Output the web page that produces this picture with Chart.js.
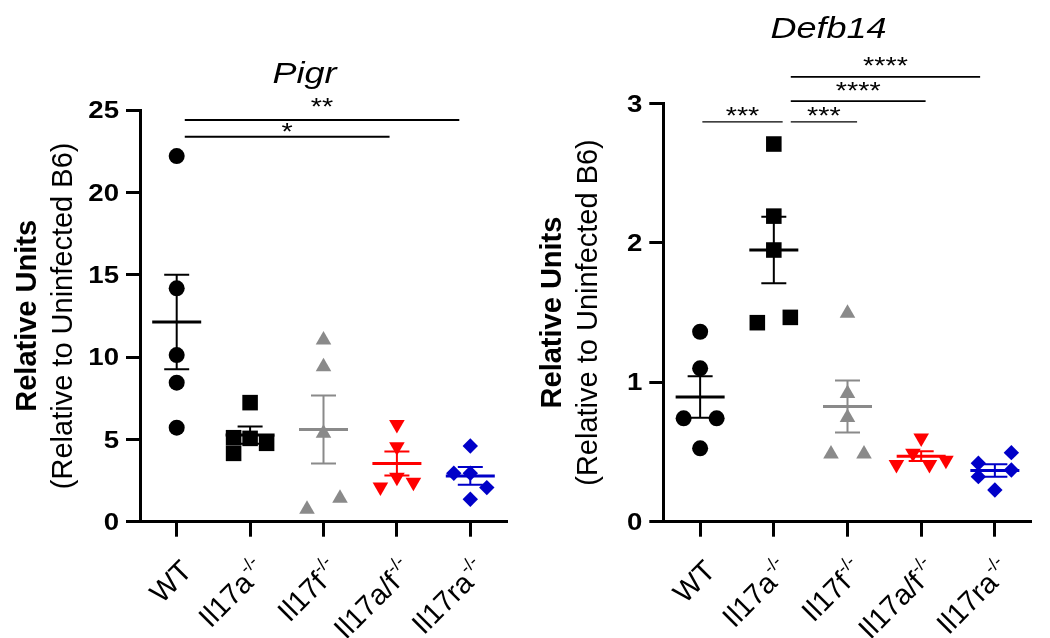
<!DOCTYPE html>
<html><head><meta charset="utf-8">
<script src="https://cdn.jsdelivr.net/npm/chart.js@4.4.1/dist/chart.umd.min.js"></script>
<style>
html,body{margin:0;padding:0;background:#fff;}
#wrap{position:relative;width:1050px;height:638px;overflow:hidden;}
canvas{position:absolute;top:0;}
</style></head><body>
<div id="wrap">
<canvas id="c1" width="525" height="638" style="left:0"></canvas>
<canvas id="c2" width="525" height="638" style="left:525px"></canvas>
</div>
<script>
// ---------- data ----------
const GROUPS = ['WT', 'Il17a', 'Il17f', 'Il17a/f', 'Il17ra'];
const GROUP_SUPS = ['', '-/-', '-/-', '-/-', '-/-'];

const PIGR_TITLE = 'Pigr';
const PIGR_TICKS = [0, 5, 10, 15, 20, 25];
const pigrWT     = [22.2, 14.17, 10.12, 8.44, 5.71];
const pigrIl17a  = [7.23, 5.1, 5.06, 4.76, 4.15];
const pigrIl17f  = [11.03, 9.41, 5.37, 0.75, 1.42];
const pigrIl17af = [5.9, 4.55, 2.1, 2.7, 2.4];
const pigrIl17ra = [4.6, 2.94, 2.94, 2.07, 1.36];
const pigrBracketFrom  = [0.11, 0.11];
const pigrBracketTo    = [2.9, 3.85];
const pigrBracketY     = [23.38, 24.39];
const pigrBracketLabel = ['*', '**'];

const DEFB_TITLE = 'Defb14';
const DEFB_TICKS = [0, 1, 2, 3];
const defbWT     = [1.362, 1.10, 0.741, 0.741, 0.526];
const defbIl17a  = [2.708, 2.191, 1.948, 1.427, 1.465];
const defbIl17f  = [1.494, 0.92, 0.748, 0.485, 0.485];
const defbIl17af = [0.60, 0.41, 0.49, 0.41, 0.44];
const defbIl17ra = [0.419, 0.495, 0.323, 0.371, 0.227];
const defbBracketFrom  = [0.03, 1.23, 1.23, 1.23];
const defbBracketTo    = [1.12, 2.13, 3.06, 3.8];
const defbBracketY     = [2.867, 2.867, 3.016, 3.19];
const defbBracketLabel = ['***', '***', '****', '****'];

const Y_TITLE_1 = 'Relative Units';
const Y_TITLE_2 = '(Relative to Uninfected B6)';

// ---------- styles ----------
const FONT = '"Liberation Sans", Arial, Helvetica, sans-serif';
const SX = 1.2; // horizontal text stretch
const STYLES = [
  {shape: 'circle',   rotation: 0,   radius: 8,   color: '#000000'},
  {shape: 'rect',     rotation: 0,   radius: 11,  color: '#000000'},
  {shape: 'triangle', rotation: 0,   radius: 9,   color: '#8a8a8a'},
  {shape: 'triangle', rotation: 180, radius: 9,   color: '#ff0000'},
  {shape: 'rectRot',  rotation: 0,   radius: 7.7, color: '#0000c8'}
];
const SLOT_PX = 16.5, ROW_GAP = 15, COLLIDE = 15.5;

function mean(a) { return a.reduce((s, v) => s + v, 0) / a.length; }
function sem(a) {
  const m = mean(a);
  const sd = Math.sqrt(a.reduce((s, v) => s + (v - m) * (v - m), 0) / (a.length - 1));
  return sd / Math.sqrt(a.length);
}

function stretchText(ctx, text, x, y, font, align) {
  ctx.save();
  ctx.font = font; ctx.textAlign = align; ctx.textBaseline = 'alphabetic'; ctx.fillStyle = '#000';
  ctx.translate(x, y); ctx.scale(SX, 1);
  ctx.fillText(text, 0, 0);
  ctx.restore();
}

function buildChart(id, cfg) {
  const datasets = cfg.groups.map((vals, gi) => ({
    label: GROUPS[gi],
    data: vals.map(v => ({x: gi, y: v})),
    pointStyle: STYLES[gi].shape,
    rotation: STYLES[gi].rotation,
    radius: STYLES[gi].radius,
    backgroundColor: STYLES[gi].color,
    borderColor: STYLES[gi].color,
    borderWidth: 0,
    showLine: false,
    clip: false
  }));

  const overlay = {
    id: 'overlay_' + id,
    afterDatasetsDraw(chart) {
      const ctx = chart.ctx, xs = chart.scales.x, ys = chart.scales.y;
      cfg.groups.forEach((vals, gi) => {
        const m = mean(vals), e = sem(vals);
        const x = xs.getPixelForValue(gi);
        const ym = ys.getPixelForValue(m), yt = ys.getPixelForValue(m + e), yb = ys.getPixelForValue(m - e);
        ctx.save();
        ctx.strokeStyle = STYLES[gi].color;
        ctx.lineWidth = 2;
        ctx.beginPath();
        ctx.moveTo(x, yt); ctx.lineTo(x, yb);
        ctx.moveTo(x - 12.5, yt); ctx.lineTo(x + 12.5, yt);
        ctx.moveTo(x - 12.5, yb); ctx.lineTo(x + 12.5, yb);
        ctx.stroke();
        ctx.lineWidth = 3;
        ctx.beginPath();
        ctx.moveTo(x - 24.5, ym); ctx.lineTo(x + 24.5, ym);
        ctx.stroke();
        ctx.restore();
      });
    },
    afterDraw(chart) {
      const ctx = chart.ctx, xs = chart.scales.x, ys = chart.scales.y, a = chart.chartArea;
      // y tick labels
      cfg.ticks.forEach(v => {
        const y = ys.getPixelForValue(v);
        stretchText(ctx, String(v), a.left - 21, y + 8.2, 'bold 23px ' + FONT, 'right');
      });
      // x labels (rotated, with superscript)
      GROUPS.forEach((g, i) => {
        const x = xs.getPixelForValue(i) + 2, y = a.bottom + 36;
        ctx.save();
        ctx.fillStyle = '#000';
        ctx.translate(x, y); ctx.rotate(-Math.PI / 4);
        ctx.textAlign = 'left'; ctx.textBaseline = 'alphabetic';
        const sup = GROUP_SUPS[i];
        ctx.font = '18px ' + FONT;
        const ws = sup ? ctx.measureText(sup).width : 0;
        ctx.font = '29px ' + FONT;
        const wm = ctx.measureText(g).width;
        ctx.fillText(g, -(wm + ws), 21);
        if (sup) { ctx.font = '18px ' + FONT; ctx.fillText(sup, -ws + 1, 8); }
        ctx.restore();
      });
      // y titles
      const cy = (a.top + a.bottom) / 2;
      ctx.save();
      ctx.fillStyle = '#000'; ctx.textAlign = 'center'; ctx.textBaseline = 'alphabetic';
      ctx.translate(36, cy); ctx.rotate(-Math.PI / 2);
      ctx.font = 'bold 29px ' + FONT; ctx.fillText(Y_TITLE_1, 0, 0);
      ctx.restore();
      ctx.save();
      ctx.fillStyle = '#000'; ctx.textAlign = 'center'; ctx.textBaseline = 'alphabetic';
      ctx.translate(72, cy); ctx.rotate(-Math.PI / 2);
      ctx.font = '29px ' + FONT; ctx.fillText(Y_TITLE_2, 0, 0);
      ctx.restore();
      // chart title
      stretchText(ctx, cfg.title, (a.left + a.right) / 2 - 19, cfg.titleY, 'italic 30px ' + FONT, 'center');
      // significance brackets
      cfg.bFrom.forEach((f, k) => {
        const x1 = xs.getPixelForValue(f), x2 = xs.getPixelForValue(cfg.bTo[k]);
        const y = ys.getPixelForValue(cfg.bY[k]);
        ctx.save();
        ctx.strokeStyle = '#000'; ctx.lineWidth = cfg.bWidth[k];
        ctx.beginPath(); ctx.moveTo(x1, y); ctx.lineTo(x2, y); ctx.stroke();
        ctx.restore();
        stretchText(ctx, cfg.bLabel[k], (x1 + x2) / 2, y + cfg.bText[k], '24px ' + FONT, 'center');
      });
    }
  };

  const axisGrid = (len) => ({drawOnChartArea: false, drawTicks: true, tickLength: len, tickWidth: 3, tickColor: '#000'});
  const chart = new Chart(document.getElementById(id), {
    type: 'scatter',
    data: {datasets},
    options: {
      responsive: false, animation: false, devicePixelRatio: 1, events: [],
      layout: {padding: {left: 0, top: cfg.top, right: cfg.right, bottom: 0}},
      plugins: {legend: {display: false}, tooltip: {enabled: false}, title: {display: false}},
      scales: {
        x: {
          type: 'linear', min: -0.5, max: 4.5,
          afterBuildTicks: s => { s.ticks = GROUPS.map((g, i) => ({value: i})); },
          afterFit: s => { s.height = 638 - cfg.bottom; },
          ticks: {display: false},
          grid: axisGrid(15),
          border: {display: true, color: '#000', width: 3}
        },
        y: {
          type: 'linear', min: cfg.ticks[0], max: cfg.ticks[cfg.ticks.length - 1],
          afterBuildTicks: s => { s.ticks = cfg.ticks.map(v => ({value: v})); },
          afterFit: s => { s.width = cfg.left; },
          ticks: {display: false},
          grid: axisGrid(14),
          border: {display: true, color: '#000', width: 3}
        }
      }
    },
    plugins: [overlay]
  });

  // swarm layout: group points into rows of close values, spread them sideways
  const xs = chart.scales.x, ys = chart.scales.y;
  const pxPerX = xs.getPixelForValue(1) - xs.getPixelForValue(0);
  cfg.groups.forEach((vals, gi) => {
    const order = vals.map((v, i) => i).sort((p, q) => vals[q] - vals[p]);
    const rows = []; let cur = null;
    order.forEach(i => {
      const py = ys.getPixelForValue(vals[i]);
      if (cur && py - cur.top < ROW_GAP) cur.items.push(i);
      else { cur = {top: py, items: [i]}; rows.push(cur); }
    });
    const slot = new Array(vals.length).fill(0);
    const placed = [];
    rows.forEach(r => {
      const items = r.items.slice().sort((p, q) => p - q);
      const n = items.length;
      if (n === 1) {
        const i = items[0], py = ys.getPixelForValue(vals[i]);
        let s = 0;
        for (const c of [0, -1, 1, -2, 2]) {
          if (!placed.some(p => p.s === c && Math.abs(p.py - py) < COLLIDE)) { s = c; break; }
        }
        slot[i] = s; placed.push({s, py});
      } else {
        items.forEach((i, k) => {
          const s = n === 2 ? (k === 0 ? -1 : 1) : k - (n - 1) / 2;
          slot[i] = s; placed.push({s, py: ys.getPixelForValue(vals[i])});
        });
      }
    });
    chart.data.datasets[gi].data = vals.map((v, i) => ({x: gi + slot[i] * SLOT_PX / pxPerX, y: v}));
  });
  chart.update('none');
  return chart;
}

buildChart('c1', {
  title: PIGR_TITLE, titleY: 83.3, ticks: PIGR_TICKS,
  groups: [pigrWT, pigrIl17a, pigrIl17f, pigrIl17af, pigrIl17ra],
  bFrom: pigrBracketFrom, bTo: pigrBracketTo, bY: pigrBracketY, bLabel: pigrBracketLabel,
  bWidth: [2, 2], bText: [3, -5],
  top: 110, right: 18, left: 140, bottom: 521.7
});
buildChart('c2', {
  title: DEFB_TITLE, titleY: 37.5, ticks: DEFB_TICKS,
  groups: [defbWT, defbIl17a, defbIl17f, defbIl17af, defbIl17ra],
  bFrom: defbBracketFrom, bTo: defbBracketTo, bY: defbBracketY, bLabel: defbBracketLabel,
  bWidth: [1.2, 1.2, 1.8, 1.8], bText: [2.3, 2.3, -2.3, -3],
  top: 103.3, right: 18.3, left: 138.3, bottom: 521.7
});
</script>
</body></html>
